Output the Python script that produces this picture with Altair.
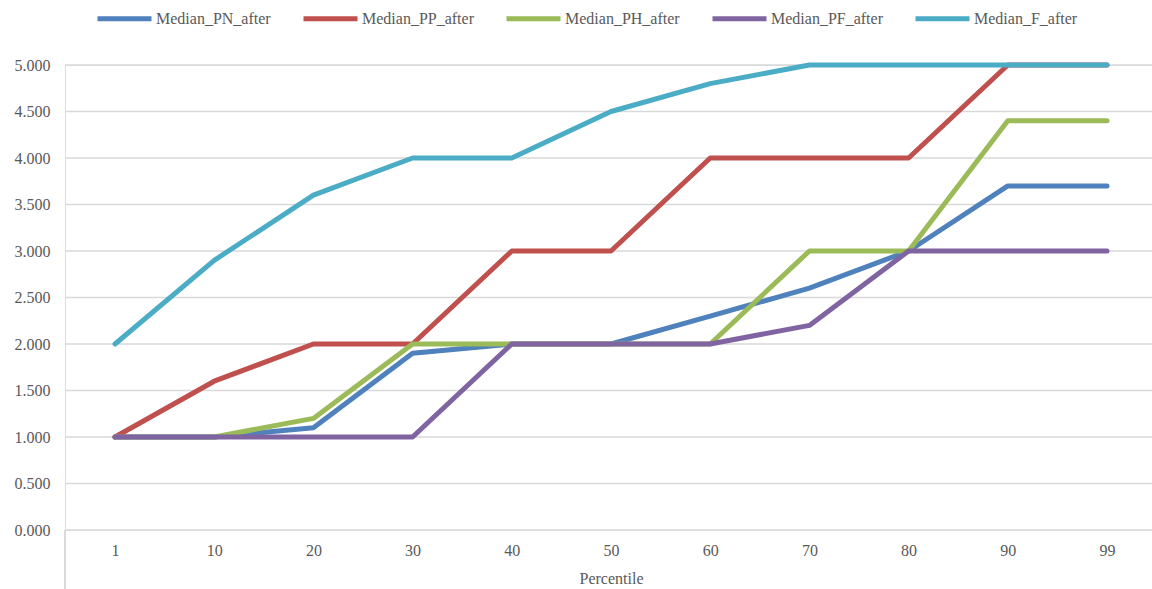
import altair as alt
import pandas as pd

percentiles = ["1", "10", "20", "30", "40", "50", "60", "70", "80", "90", "99"]
series_names = ["Median_PN_after", "Median_PP_after", "Median_PH_after", "Median_PF_after", "Median_F_after"]
pn = [1.0, 1.0, 1.1, 1.9, 2.0, 2.0, 2.3, 2.6, 3.0, 3.7, 3.7]
pp = [1.0, 1.6, 2.0, 2.0, 3.0, 3.0, 4.0, 4.0, 4.0, 5.0, 5.0]
ph = [1.0, 1.0, 1.2, 2.0, 2.0, 2.0, 2.0, 3.0, 3.0, 4.4, 4.4]
pf = [1.0, 1.0, 1.0, 1.0, 2.0, 2.0, 2.0, 2.2, 3.0, 3.0, 3.0]
f = [2.0, 2.9, 3.6, 4.0, 4.0, 4.5, 4.8, 5.0, 5.0, 5.0, 5.0]
colors = ["#4F81BD", "#C0504D", "#9BBB59", "#8064A2", "#4BACC6"]
y_ticks = [0, 0.5, 1, 1.5, 2, 2.5, 3, 3.5, 4, 4.5, 5]

rows = []
for i, (name, vals) in enumerate(zip(series_names, [pn, pp, ph, pf, f])):
    for p, v in zip(percentiles, vals):
        rows.append({"Percentile": p, "Series": name, "Value": v, "order": i})
df = pd.DataFrame(rows)
grid_df = pd.DataFrame({"Value": y_ticks})

FONT = "Liberation Serif"
W, H = 1087, 465
y_scale = alt.Scale(domain=[0, 5])

grid = alt.Chart(grid_df).mark_rule(color="#d9d9d9", strokeWidth=1.5).encode(
    y=alt.Y("Value:Q", scale=y_scale), x=alt.value(0), x2=alt.value(W)
)

lines = alt.Chart(df).mark_line(strokeWidth=5, strokeCap="round", strokeJoin="round").encode(
    x=alt.X("Percentile:N", sort=percentiles,
            scale=alt.Scale(type="point", range=[50, 1042], padding=0),
            axis=alt.Axis(title="Percentile", grid=False, domain=False, ticks=False,
                          labelAngle=0, labelPadding=12, titlePadding=12,
                          labelFontSize=16, titleFontSize=16, titleFontWeight="normal",
                          labelColor="#595959", titleColor="#595959",
                          labelFont=FONT, titleFont=FONT)),
    y=alt.Y("Value:Q", scale=y_scale,
            axis=alt.Axis(title=None, values=y_ticks, format=".3f", grid=False,
                          domain=False, ticks=False,
                          labelPadding=15, labelFontSize=16, labelColor="#595959", labelFont=FONT)),
    color=alt.Color("Series:N", sort=series_names,
                    scale=alt.Scale(domain=series_names, range=colors),
                    legend=alt.Legend(title=None, orient="none", legendX=30, legendY=-76,
                                      direction="horizontal", symbolType="stroke",
                                      symbolSize=2916, symbolStrokeWidth=5,
                                      labelFontSize=16, labelFont=FONT, labelColor="#595959",
                                      labelOffset=2, columnPadding=22)),
    order="order:Q",
    detail="Series:N",
)

edge = alt.Chart(df).mark_rule(color="#d9d9d9", strokeWidth=1.5).encode(
    x=alt.value(0), y=alt.value(H), y2=alt.value(H + 60)
)

chart = alt.layer(grid, lines, edge).properties(
    width=W, height=H,
    autosize=alt.AutoSizeParams(type="none"),
    padding={"left": 65, "top": 65, "right": 0, "bottom": 59},
).configure_view(stroke=None, clip=False).configure(background="white")

chart.save("out.html", embed_options={"renderer": "svg", "actions": False})
